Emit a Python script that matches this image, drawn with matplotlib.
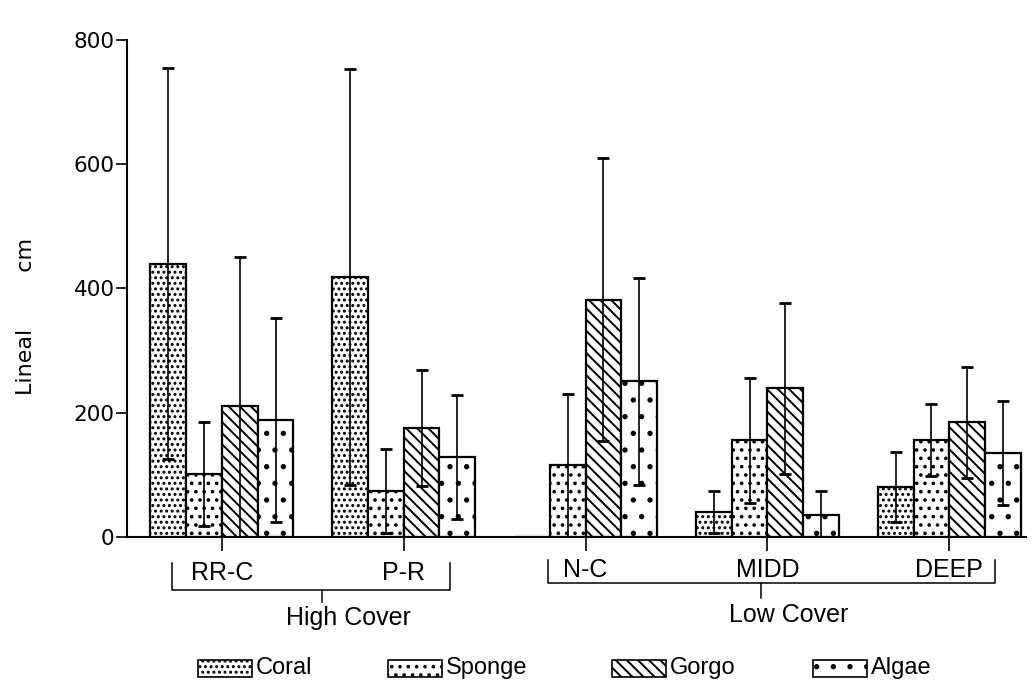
import numpy as np
import matplotlib
matplotlib.use('Agg')
import matplotlib.pyplot as plt
from matplotlib.patches import Rectangle

sites = ['RR-C', 'P-R', 'N-C', 'MIDD', 'DEEP']
groups = ['High Cover', 'Low Cover']
series = ['Coral', 'Sponge', 'Gorgo', 'Algae']

coral = [440, 418, 0, 40, 80]
coral_sd = [315, 335, 0, 34, 56]
sponge = [101, 74, 115, 155, 155]
sponge_sd = [83, 68, 115, 100, 58]
gorgo = [210, 175, 382, 239, 184]
gorgo_sd = [241, 94, 228, 138, 89]
algae = [188, 128, 250, 35, 135]
algae_sd = [165, 100, 167, 39, 84]

yticks = [0, 200, 400, 600, 800]

plt.rcParams['hatch.linewidth'] = 1.4
hatches = ['...', '..', '\\\\\\', '.']

fig = plt.figure(figsize=(10.34, 6.89), dpi=100, facecolor='white')
ax = fig.add_axes([0.123, 0.221, 0.869, 0.721])

x = np.arange(len(sites))
w = 0.197
offsets = [-1.5 * w, -0.5 * w, 0.5 * w, 1.5 * w]
vals = [coral, sponge, gorgo, algae]
sds = [coral_sd, sponge_sd, gorgo_sd, algae_sd]

for i in range(4):
    ax.bar(x + offsets[i], vals[i], width=w, facecolor='white',
           edgecolor='black', linewidth=1.6, hatch=hatches[i], zorder=2)
for i in range(4):
    v = np.array(vals[i], dtype=float)
    s = np.array(sds[i], dtype=float)
    keep = s > 0
    ax.errorbar((x + offsets[i])[keep], v[keep], yerr=s[keep], fmt='none',
                ecolor='black', elinewidth=1.2, capsize=4, capthick=2, zorder=3)

ax.set_xlim(-0.52, 4.42)
ax.set_ylim(0, 800)
ax.spines['top'].set_visible(False)
ax.spines['right'].set_visible(False)
ax.spines['left'].set_linewidth(1.5)
ax.spines['bottom'].set_linewidth(1.5)
ax.set_yticks(yticks)
ax.set_yticklabels([str(t) for t in yticks], fontsize=15.5, family='DejaVu Sans')
ax.tick_params(axis='y', length=8, width=1.2, pad=1)
ax.set_xticks(x)
ax.set_xticklabels([])
ax.tick_params(axis='x', length=10, width=1.2)

fig.text(0.025, 1 - 316 / 689, 'Lineal        cm', rotation=90, fontsize=16,
         family='DejaVu Sans', ha='center', va='center')

# site labels and group brackets below axis
tr = ax.get_xaxis_transform()
label_y = [-0.074, -0.074, -0.066, -0.066, -0.066]
for xi, s, ly in zip(x, sites, label_y):
    ax.text(xi, ly, s, transform=tr, ha='center', va='center',
            fontsize=18, family='Liberation Sans', clip_on=False)

brackets = [(-0.273, 1.257, -0.052, -0.107, 0.552, -0.131, 0.694, -0.163),
            (1.792, 4.25, -0.046, -0.094, 2.967, -0.123, 3.115, -0.157)]
for (x0, x1, ytop, ybot, xs, ys, xt, yt), g in zip(brackets, groups):
    ax.plot([x0, x0, x1, x1], [ytop, ybot, ybot, ytop], color='black',
            lw=1.1, transform=tr, clip_on=False)
    ax.plot([xs, xs], [ybot, ys], color='black', lw=1.1,
            transform=tr, clip_on=False)
    ax.text(xt, yt, g, transform=tr, ha='center', va='center', fontsize=18,
            family='Liberation Sans', clip_on=False)

# legend drawn by hand: swatch + label
W, H = 1034, 689
leg_x = [198, 388, 612, 813]
for px, h, name in zip(leg_x, hatches, series):
    fig.add_artist(Rectangle((px / W, 1 - 677 / H), 54 / W, 17 / H,
                             transform=fig.transFigure, facecolor='white',
                             edgecolor='black', linewidth=1.2, hatch=h))
    fig.text((px + 58) / W, 1 - 668 / H, name, fontsize=17,
             family='Liberation Sans', ha='left', va='center')

plt.savefig('out.png', dpi=100, facecolor='white')
